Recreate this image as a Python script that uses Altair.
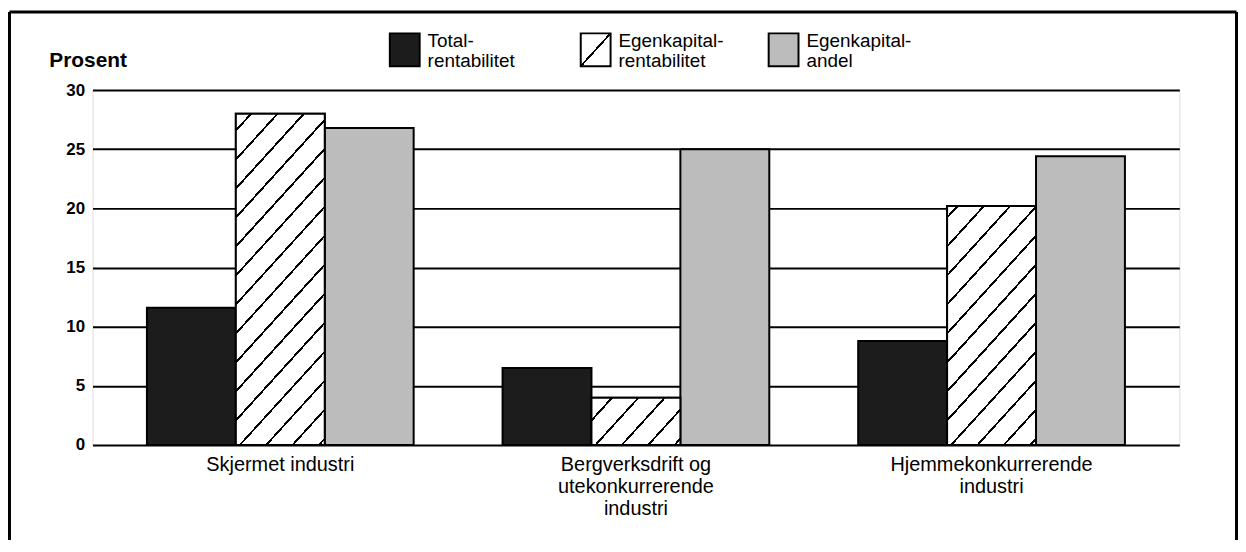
import altair as alt
import pandas as pd

# ---------------- data ----------------
categories = [
    "Skjermet industri",
    "Bergverksdrift og\nutekonkurrerende\nindustri",
    "Hjemmekonkurrerende\nindustri",
]
series = ["Total-\nrentabilitet", "Egenkapital-\nrentabilitet", "Egenkapital-\nandel"]
total_rent = [11.6, 6.5, 8.8]
egen_rent = [28.0, 4.0, 20.2]
egen_andel = [26.8, 25.0, 24.4]
y_ticks = [0, 5, 10, 15, 20, 25, 30]

# ---------------- layout / style ----------------
FONT = "Liberation Sans"
W, H = 1093, 357
PAD = {"left": 85, "top": 81, "right": 59, "bottom": 94}
Y_MAX = 30
P_IN, P_OUT = 0.25, 0.153
DARK, LIGHT = "#1c1c1c", "#bcbcbc"
SLOPE = 1.1          # hatch line slope (dy/dx)
SPACING = 26.5       # horizontal spacing of hatch lines
ANCHOR = 4.0         # where first line meets the bar bottom
HALF = 1.3           # half line thickness (horizontal px)

rows = []
for i, c in enumerate(categories):
    for s, vals in zip(series, [total_rent, egen_rent, egen_andel]):
        rows.append({"category": c, "series": s, "value": vals[i]})
df = pd.DataFrame(rows)


def hatch_fill(w, h, m=SLOPE, S=SPACING, anchor=ANCHOR, half=HALF):
    """Linear gradient (object bounding box units) that draws '/' hatching."""
    L = w * m + h
    k = L / (w * w * m * m + h * h)
    stops = [{"offset": 0, "color": "white"}]
    for j in range(-80, 80):
        c = (anchor + j * S) * m + h
        a = (c - half * m) / L
        b = (c + half * m) / L
        if b <= 0 or a >= 1:
            continue
        a = max(a, 0.0)
        b = min(b, 1.0)
        stops += [
            {"offset": a, "color": "white"},
            {"offset": a, "color": "black"},
            {"offset": b, "color": "black"},
            {"offset": b, "color": "white"},
        ]
    stops.append({"offset": 1, "color": "white"})
    return {"gradient": "linear", "x1": 0, "y1": 0, "x2": k * w * m, "y2": k * h, "stops": stops}


step = W / (len(categories) - P_IN + 2 * P_OUT)
bar_w = step * (1 - P_IN) / len(series)

x_enc = alt.X(
    "category:N",
    scale=alt.Scale(domain=categories, paddingInner=P_IN, paddingOuter=P_OUT),
    axis=alt.Axis(
        title=None,
        labelAngle=0,
        labelFont=FONT,
        labelFontSize=20,
        labelColor="black",
        labelLineHeight=22,
        labelPadding=10,
        labelLimit=400,
        labelOverlap=False,
        labelBound=False,
        labelExpr="split(datum.label, '\\n')",
        ticks=False,
        tickSize=0,
        domain=False,
        grid=False,
    ),
)
xoff_enc = alt.XOffset("series:N", scale=alt.Scale(domain=series, paddingInner=0, paddingOuter=0))
y_enc = alt.Y(
    "value:Q",
    scale=alt.Scale(domain=[0, Y_MAX], nice=False),
    axis=alt.Axis(
        values=y_ticks,
        title="Prosent",
        titleAngle=0,
        titleAlign="left",
        titleBaseline="alphabetic",
        titleX=-44,
        titleY=-24,
        titleFont=FONT,
        titleFontSize=21,
        titleFontWeight="bold",
        titleColor="black",
        labelFont=FONT,
        labelFontSize=17,
        labelFontWeight="bold",
        labelColor="black",
        labelPadding=8,
        ticks=False,
        tickSize=0,
        domain=False,
        grid=True,
        gridColor="black",
        gridWidth=2,
        gridOpacity=1,
    ),
)

bars = alt.Chart(df).mark_bar(stroke="black", strokeWidth=2).encode(
    x=x_enc,
    xOffset=xoff_enc,
    y=y_enc,
    fill=alt.Fill("series:N", scale=alt.Scale(domain=series, range=[DARK, "white", LIGHT]), legend=None),
)

layers = [bars]
for c, v in zip(categories, egen_rent):
    h = v / Y_MAX * H
    layers.append(
        alt.Chart(df)
        .transform_filter((alt.datum.category == c) & (alt.datum.series == series[1]))
        .mark_bar(fill=hatch_fill(bar_w, h), stroke="black", strokeWidth=2)
        .encode(x=x_enc, xOffset=xoff_enc, y=y_enc)
    )

# ---------------- legend (manual) ----------------
LEG_X = [299, 491, 680]
SW_W, SW_TOP, SW_BOT = 30, -57, -24
leg_fills = [DARK, hatch_fill(SW_W, SW_BOT - SW_TOP, m=(SW_BOT - SW_TOP) / SW_W, S=29, anchor=0), LIGHT]
for i, s in enumerate(series):
    ldf = pd.DataFrame({"label": [s]})
    layers.append(
        alt.Chart(ldf)
        .mark_rect(fill=leg_fills[i], stroke="black", strokeWidth=2)
        .encode(
            x=alt.value(LEG_X[i]),
            x2=alt.value(LEG_X[i] + SW_W),
            y=alt.value(SW_TOP),
            y2=alt.value(SW_BOT),
        )
    )
    layers.append(
        alt.Chart(ldf)
        .mark_text(
            font=FONT, fontSize=19, color="black", align="left", baseline="alphabetic",
            lineBreak="\n", lineHeight=20,
        )
        .encode(x=alt.value(LEG_X[i] + 38), y=alt.value(-43), text="label:N")
    )

# ---------------- outer frame (left, top, right) ----------------
one = pd.DataFrame({"a": [0]})
FR_L, FR_T, FR_R, FR_B = -83.5, -78.5, 1150.5, 470
for xa, xb, ya, yb in [(FR_L, FR_L, FR_T, FR_B), (FR_L, FR_R, FR_T, FR_T), (FR_R, FR_R, FR_T, FR_B)]:
    layers.append(
        alt.Chart(one)
        .mark_rule(color="black", strokeWidth=3)
        .encode(x=alt.value(xa), x2=alt.value(xb), y=alt.value(ya), y2=alt.value(yb))
    )

chart = (
    alt.layer(*layers)
    .properties(width=W, height=H, padding=PAD, autosize=alt.AutoSizeParams(type="none"))
    .configure_view(stroke="black", strokeWidth=2)
    .configure(background="white")
)

chart.save("out.html", embed_options={"renderer": "svg", "actions": False})
